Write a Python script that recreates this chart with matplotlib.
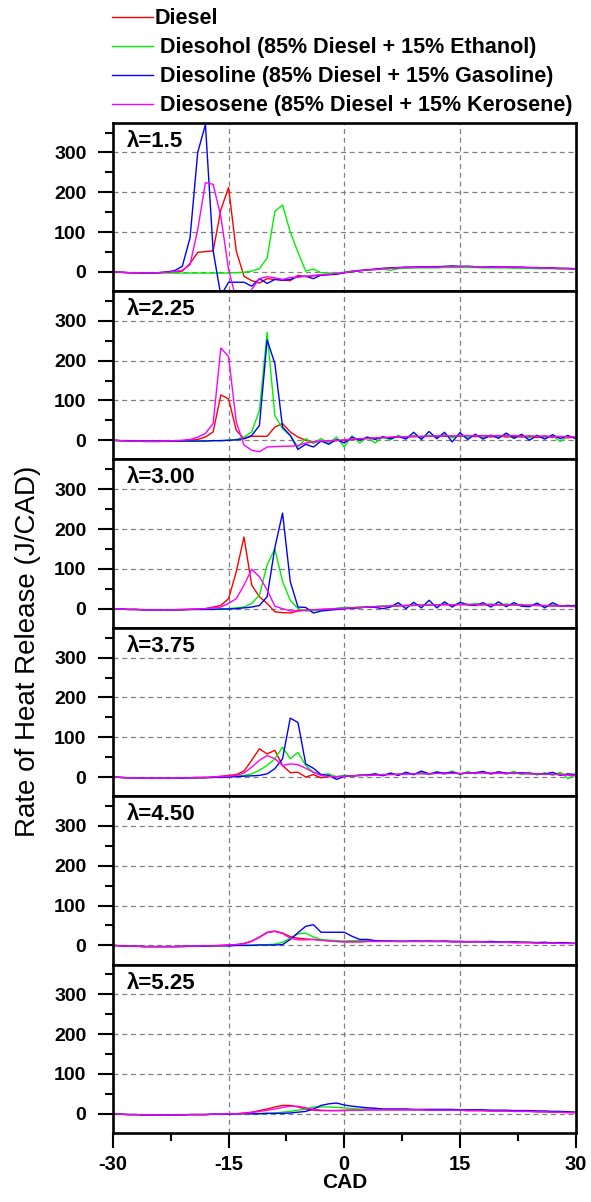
import numpy as np
import matplotlib
matplotlib.use("Agg")
from matplotlib import pyplot as plt
from matplotlib.ticker import FixedLocator

plt.rcParams['font.family'] = ['Liberation Sans', 'DejaVu Sans']
plt.rcParams['axes.unicode_minus'] = False

# crank angle (deg), one sample per degree
cad = np.arange(-30, 31)

LAMBDAS = ["1.5", "2.25", "3.00", "3.75", "4.50", "5.25"]
FUELS = ["Diesel",
         " Diesohol (85% Diesel + 15% Ethanol)",
         " Diesoline (85% Diesel + 15% Gasoline)",
         " Diesosene (85% Diesel + 15% Kerosene)"]
COLORS = ["#ff0000", "#00f000", "#0000ff", "#ff00ff"]

# rows: -30..-21 / -20..-11 / -10..-1 / 0..9 / 10..19 / 20..30
diesel_l150 = [0, -1, -2, -3, -3, -3, -2, -1, 0, 2,
               21, 49, 51, 53, 156, 212, 52, -11, -22, -28,
               -17, -19, -20, -22, -9, -12, -10, -8, -7, -5,
               -2, 1, 3, 5, 6, 8, 9, 10, 11, 11,
               12, 12, 12, 13, 13, 13, 13, 13, 12, 12,
               12, 12, 11, 11, 10, 10, 9, 9, 8, 8, 7]
diesohol_l150 = [0, -1, -2, -2, -3, -3, -3, -3, -3, -3,
                 -3, -3, -3, -3, -3, -3, -2, -1, 2, 8,
                 35, 152, 168, 100, 49, 2, 7, -2, -3, -3,
                 -1, 2, 4, 5, 6, 7, 4, 8, 9, 10,
                 10, 10, 10, 11, 11, 11, 11, 11, 10, 10,
                 10, 10, 9, 9, 9, 8, 8, 8, 7, 7, 7]
diesoline_l150 = [0, -1, -2, -2, -3, -3, -2, 0, 3, 14,
                  85, 300, 370, 53, -60, -26, -26, -26, -36, -17,
                  -29, -19, -21, -19, -12, -11, -17, -8, -7, -6,
                  -2, 1, 3, 5, 7, 9, 10, 11, 12, 12,
                  13, 13, 13, 14, 15, 14, 14, 13, 13, 13,
                  12, 12, 12, 12, 11, 11, 10, 10, 9, 9, 8]
diesosene_l150 = [0, -1, -2, -2, -3, -3, -2, -1, 1, 4,
                  18, 106, 224, 220, 139, 6, -70, -65, -44, -17,
                  -12, -15, -19, -14, -13, -11, -9, -7, -6, -4,
                  -2, 1, 3, 5, 6, 8, 9, 10, 11, 11,
                  12, 12, 12, 13, 13, 13, 14, 13, 13, 12,
                  12, 12, 12, 11, 11, 10, 10, 9, 9, 8, 7]

diesel_l225 = [0, -1, -2, -2, -3, -3, -3, -3, -2, -1,
               0, 2, 8, 21, 114, 104, 25, 4, 10, 10,
               10, 33, 42, 21, 8, 0, -4, -3, -2, -1,
               0, 2, 3, 4, 5, 6, 7, 8, 8, 9,
               9, 10, 10, 10, 10, 10, 11, 9, 11, 8,
               11, 8, 10, 8, 10, 7, 10, 7, 9, 6, 8]
diesohol_l225 = [0, -1, -1, -2, -2, -2, -2, -2, -2, -2,
                 -2, -2, -2, -1, -1, 0, 2, 8, 21, 75,
                 271, 62, 29, 12, -17, 4, -8, 4, -8, 8,
                 -17, 11, -7, 8, -7, 8, 1, 12, 4, 12,
                 6, 13, 7, 14, 6, 13, 7, 14, 6, 12,
                 7, 14, 5, 12, 6, 13, 5, 11, -3, 10, 6]
diesoline_l225 = [0, -1, -1, -2, -2, -2, -2, -2, -2, -2,
                  -2, -2, -2, -1, -1, 0, 1, 4, 12, 37,
                  252, 193, 33, 12, -23, -10, -17, -2, -10, 2,
                  -7, 8, 0, 8, 2, 9, 4, 10, 3, 20,
                  2, 22, 4, 20, -4, 19, 2, 15, 3, 13,
                  5, 18, 5, 15, 0, 12, 3, 14, 4, 12, 4]
diesosene_l225 = [0, -1, -2, -2, -3, -3, -3, -2, -1, 0,
                  2, 8, 17, 42, 232, 210, 46, -12, -25, -29,
                  -17, -16, -15, -15, -13, -7, -4, -2, -1, 0,
                  1, 3, 4, 5, 6, 7, 8, 9, 9, 10,
                  10, 10, 11, 11, 11, 11, 12, 11, 12, 11,
                  12, 11, 12, 10, 11, 10, 11, 9, 10, 9, 8]

diesel_l300 = [0, -1, -2, -2, -3, -3, -3, -3, -3, -2,
               -2, -1, 0, 4, 8, 25, 93, 180, 59, 30,
               13, -8, -10, -11, -6, -4, -3, -2, -1, 0,
               1, 2, 3, 4, 5, 6, 6, 7, 8, 8,
               9, 9, 10, 10, 10, 10, 10, 10, 9, 10,
               9, 9, 9, 8, 8, 8, 7, 7, 6, 6, 5]
diesohol_l300 = [0, -1, -2, -2, -3, -3, -3, -3, -3, -3,
                 -2, -2, -2, -1, -1, 0, 2, 4, 13, 34,
                 110, 150, 68, 21, 0, -6, -5, -4, -2, 1,
                 3, 3, 4, 5, 5, 7, 6, 9, 7, 10,
                 8, 11, 8, 12, 9, 12, 9, 13, 9, 12,
                 8, 12, 8, 11, 7, 11, 6, 10, 6, 9, 5]
diesoline_l300 = [0, -1, -2, -2, -3, -3, -3, -3, -3, -3,
                  -2, -2, -2, -2, -1, -1, 0, 2, 4, 8,
                  30, 153, 240, 68, 4, 3, -11, -6, -4, -2,
                  0, 1, 2, 4, 3, 0, 4, 15, 0, 16,
                  2, 21, 2, 17, 4, 16, 10, 8, 15, 4,
                  17, 5, 15, 6, 5, 14, 2, 15, 6, 7, 8]
diesosene_l300 = [0, -1, -2, -2, -3, -3, -3, -3, -3, -2,
                  -2, -1, 0, 2, 4, 13, 25, 59, 99, 80,
                  47, 6, 0, -6, -5, -4, -3, -2, -1, 0,
                  1, 2, 3, 4, 5, 6, 7, 7, 8, 8,
                  9, 9, 10, 10, 10, 10, 11, 10, 11, 10,
                  10, 9, 10, 9, 9, 8, 8, 7, 7, 6, 6]

diesel_l375 = [0, -1, -2, -2, -3, -3, -3, -3, -3, -2,
               -2, -1, -1, 0, 2, 4, 6, 15, 42, 71,
               58, 67, 29, 11, 12, 0, 6, -2, 2, 1,
               2, 3, 4, 5, 5, 6, 7, 7, 8, 8,
               10, 7, 10, 8, 11, 8, 10, 9, 11, 8,
               10, 8, 11, 8, 9, 7, 9, 7, 8, 5, 3]
diesohol_l375 = [0, -1, -2, -2, -3, -3, -3, -3, -3, -2,
                 -2, -2, -1, -1, 0, 1, 2, 4, 8, 17,
                 29, 46, 75, 46, 62, 29, 12, 6, 8, 0,
                 5, 1, 6, 3, 8, 4, 9, 5, 10, 6,
                 12, 6, 14, 7, 15, 6, 14, 8, 12, 9,
                 13, 8, 14, 6, 12, 5, 11, 4, 12, -4, 8]
diesoline_l375 = [0, -1, -2, -2, -3, -3, -3, -3, -3, -3,
                  -2, -2, -2, -1, -1, 0, 1, 2, 3, 4,
                  8, 21, 46, 148, 137, 33, 22, 6, 4, -6,
                  2, 3, 4, 5, 8, 3, 10, 4, 12, 6,
                  15, 8, 12, 10, 12, 8, 10, 11, 14, 8,
                  13, 10, 9, 11, 9, 8, 7, 12, 4, 8, 6]
diesosene_l375 = [0, -1, -2, -2, -3, -3, -3, -3, -3, -2,
                  -2, -1, -1, 0, 1, 2, 4, 10, 25, 42,
                  54, 46, 29, 33, 31, 22, 12, 4, 1, 1,
                  2, 3, 4, 4, 5, 6, 6, 7, 7, 8,
                  8, 8, 9, 9, 9, 9, 10, 10, 10, 10,
                  10, 9, 9, 9, 8, 8, 7, 7, 6, 5, 4]

diesel_l450 = [0, -1, -2, -2, -3, -3, -3, -3, -3, -2,
               -2, -2, -1, -1, 0, 1, 2, 5, 11, 21,
               33, 36, 31, 22, 18, 16, 15, 13, 12, 10,
               9, 9, 9, 10, 10, 10, 10, 10, 10, 10,
               10, 10, 10, 10, 9, 9, 9, 9, 9, 8,
               8, 8, 7, 7, 7, 6, 6, 6, 5, 5, 5]
diesohol_l450 = [0, -1, -2, -2, -3, -3, -3, -3, -3, -3,
                 -2, -2, -2, -1, -1, -1, 0, 0, 1, 1,
                 2, 3, 8, 18, 29, 31, 21, 15, 13, 12,
                 11, 12, 12, 12, 12, 11, 11, 11, 11, 11,
                 11, 10, 10, 10, 10, 10, 10, 9, 9, 9,
                 9, 8, 8, 8, 7, 7, 7, 6, 6, 5, 5]
diesoline_l450 = [0, -1, -2, -2, -3, -3, -3, -3, -3, -3,
                  -2, -2, -2, -1, -1, -1, 0, 0, 0, 1,
                  1, 1, 2, 15, 32, 48, 52, 33, 33, 33,
                  33, 23, 15, 15, 12, 11, 11, 10, 10, 11,
                  10, 11, 10, 11, 10, 10, 9, 10, 9, 10,
                  9, 8, 9, 8, 8, 7, 8, 6, 7, 6, 5]
diesosene_l450 = [0, -1, -2, -2, -3, -3, -3, -3, -3, -2,
                  -2, -2, -1, -1, 0, 1, 2, 4, 10, 20,
                  32, 35, 30, 18, 14, 14, 15, 13, 11, 10,
                  9, 9, 9, 10, 10, 10, 10, 10, 10, 10,
                  10, 10, 10, 10, 9, 9, 9, 9, 9, 8,
                  8, 8, 7, 7, 7, 6, 6, 6, 5, 5, 5]

diesel_l525 = [0, -1, -2, -2, -3, -3, -3, -3, -3, -3,
               -2, -2, -2, -1, -1, 0, 0, 2, 4, 8,
               12, 17, 21, 21, 17, 12, 9, 8, 8, 8,
               9, 9, 9, 10, 10, 10, 10, 10, 10, 10,
               10, 9, 9, 9, 9, 9, 8, 8, 8, 7,
               7, 7, 6, 6, 6, 5, 5, 4, 4, 3, 3]
diesohol_l525 = [0, -1, -2, -2, -3, -3, -3, -3, -3, -3,
                 -2, -2, -2, -1, -1, -1, 0, 0, 0, 1,
                 1, 2, 4, 6, 9, 12, 17, 17, 17, 16,
                 15, 13, 12, 12, 11, 11, 11, 11, 11, 10,
                 10, 10, 10, 10, 9, 9, 9, 9, 8, 8,
                 8, 7, 7, 7, 6, 6, 5, 5, 4, 4, 3]
diesoline_l525 = [0, -1, -2, -2, -3, -3, -3, -3, -3, -3,
                  -2, -2, -2, -1, -1, -1, 0, 0, 0, 0,
                  1, 1, 1, 2, 4, 6, 12, 21, 25, 27,
                  22, 19, 17, 15, 14, 12, 12, 12, 12, 11,
                  11, 11, 11, 11, 11, 10, 10, 10, 10, 9,
                  9, 9, 8, 8, 8, 7, 7, 6, 6, 5, 4]
diesosene_l525 = [0, -1, -2, -2, -3, -3, -3, -3, -3, -3,
                  -2, -2, -2, -1, -1, 0, 0, 1, 3, 6,
                  9, 12, 16, 19, 19, 15, 11, 9, 8, 8,
                  8, 9, 9, 10, 10, 10, 10, 10, 10, 10,
                  10, 9, 9, 9, 9, 9, 8, 8, 8, 7,
                  7, 7, 6, 6, 6, 5, 5, 4, 4, 3, 3]

PANELS = [
    [diesel_l150, diesohol_l150, diesoline_l150, diesosene_l150],
    [diesel_l225, diesohol_l225, diesoline_l225, diesosene_l225],
    [diesel_l300, diesohol_l300, diesoline_l300, diesosene_l300],
    [diesel_l375, diesohol_l375, diesoline_l375, diesosene_l375],
    [diesel_l450, diesohol_l450, diesoline_l450, diesosene_l450],
    [diesel_l525, diesohol_l525, diesoline_l525, diesosene_l525],
]

fig = plt.figure(figsize=(5.91, 12.02), dpi=100)
axes = fig.subplots(6, 1, sharex=True)
fig.subplots_adjust(left=0.191, right=0.974, top=0.898, bottom=0.0575, hspace=0)

for i, ax in enumerate(axes):
    for series, color in zip(PANELS[i], COLORS):
        ax.plot(cad, series, color=color, lw=1.0)
    ax.set_xlim(-30, 30)
    ax.set_ylim(-48, 375)
    ax.set_yticks([0, 100, 200, 300])
    ax.yaxis.set_minor_locator(FixedLocator([50, 150, 250, 350]))
    ax.set_xticks([-30, -15, 0, 15, 30])
    ax.xaxis.set_minor_locator(FixedLocator([-22.5, -7.5, 7.5, 22.5]))
    ax.grid(True, which='major', color='#808080', ls=(0, (4, 3)), lw=0.9)
    for s in ax.spines.values():
        s.set_linewidth(1.9)
    ax.tick_params(which='major', direction='out', length=11, width=1.5,
                   labelsize=14)
    ax.tick_params(axis='y', which='major', pad=8)
    ax.tick_params(axis='x', which='major', pad=5, labelsize=14.5)
    ax.tick_params(which='minor', direction='out', length=6, width=1.5)
    for lab in ax.get_yticklabels():
        lab.set_fontweight('bold')
    if i < 5:
        ax.tick_params(which='both', bottom=False, labelbottom=False)
    ax.text(0.03, 0.89, "\u03bb=" + LAMBDAS[i], transform=ax.transAxes,
            fontsize=16, fontweight='bold', va='center', ha='left')

axes[-1].set_xlabel("CAD", fontsize=15, fontweight='bold', labelpad=-1)
for lab in axes[-1].get_xticklabels():
    lab.set_fontweight('bold')

fig.text(0.047, 0.458, "Rate of Heat Release (J/CAD)", rotation=90,
         fontsize=20, va='center', ha='center')

fig.legend(axes[0].get_lines(), FUELS, loc='upper left',
           bbox_to_anchor=(0.19, 0.993), frameon=False,
           prop={'weight': 'bold', 'size': 15.5}, handlelength=1.9,
           handletextpad=0.05, labelspacing=0.37, borderpad=0,
           borderaxespad=0)

fig.savefig("out.png", dpi=100)
